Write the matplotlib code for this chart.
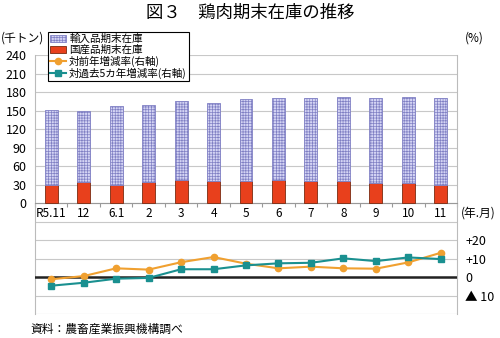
import matplotlib.pyplot as plt
import numpy as np

plt.rcParams['font.family'] = ['Noto Sans CJK JP', 'DejaVu Sans']
plt.rcParams['hatch.linewidth'] = 0.5

months = ['R5.11', '12', '6.1', '2', '3', '4', '5', '6', '7', '8', '9', '10', '11']
total_stock = [151, 149, 158, 159, 166, 163, 168, 171, 170, 172, 170, 172, 170]
domestic = [30, 33.5, 30, 34.5, 37, 35, 36, 37, 35.5, 35.5, 33, 32, 30]
imported = [t - d for t, d in zip(total_stock, domestic)]
yoy = [-1.2, 0.5, 4.7, 4.0, 8.0, 10.8, 7.2, 4.7, 5.6, 4.7, 4.5, 7.9, 13.1]
vs5yr = [-4.7, -3.1, -0.9, -0.5, 4.2, 4.2, 6.3, 7.4, 7.7, 10.1, 8.6, 10.6, 9.7]

x = np.arange(len(months))

fig = plt.figure(figsize=(5, 3.38), dpi=100)
ax = fig.add_axes([0.07, 0.071, 0.844, 0.766])

b1 = ax.bar(x, domestic, width=0.4, color='#e8401c', edgecolor='#7a2a10', linewidth=0.6,
            label='国産品期末在庫', zorder=3)
b2 = ax.bar(x, imported, width=0.4, bottom=domestic, color='#d4d4f4', edgecolor='#8080c4',
            hatch='++++++', linewidth=0.6, label='輸入品期末在庫', zorder=3)

ax.set_xlim(-0.5, len(months) - 0.5)
ax.set_ylim(-180, 240)
yt = list(range(-180, 241, 30))
ax.set_yticks(yt)
ax.set_yticklabels([str(v) if v >= 0 else '' for v in yt], fontsize=9)
ax.tick_params(axis='y', length=0, pad=6)
ax.grid(axis='y', color='#c8c8c8', linewidth=0.8, zorder=0)

ax.spines['bottom'].set_position(('data', 0))
ax.spines['bottom'].set_color('#999999')
ax.spines['top'].set_visible(False)
ax.spines['left'].set_color('#bbbbbb')
ax.spines['right'].set_color('#bbbbbb')
ax.set_xticks(np.arange(-0.5, len(months), 1))
ax.set_xticklabels([])
ax.set_xticks(x, minor=True)
ax.set_xticklabels(months, minor=True, fontsize=8.5)
ax.tick_params(axis='x', which='major', length=3, color='#999999')
ax.tick_params(axis='x', which='minor', length=0, pad=3)

ax2 = ax.twinx()
ax2.set_ylim(-20, 120)
ax2.set_yticks([-10, 0, 10, 20])
ax2.set_yticklabels(['▲ 10', '0', '+10', '+20'], fontsize=9)
ax2.tick_params(axis='y', length=0, pad=6)
for s in ax2.spines.values():
    s.set_visible(False)
ax2.axhline(0, color='#222222', linewidth=1.8, zorder=2)
l1, = ax2.plot(x, yoy, color='#f0a030', marker='o', markersize=4.5, linewidth=1.5,
               label='対前年増減率(右軸)', zorder=4)
l2, = ax2.plot(x, vs5yr, color='#1a9090', marker='s', markersize=4.5, linewidth=1.5,
               label='対過去5カ年増減率(右軸)', zorder=4)

leg = fig.legend([b2, b1, l1, l2],
                 ['輸入品期末在庫', '国産品期末在庫', '対前年増減率(右軸)', '対過去5カ年増減率(右軸)'],
                 loc='upper left', bbox_to_anchor=(0.096, 0.905), fontsize=7.6,
                 frameon=True, fancybox=False, framealpha=1, edgecolor='black',
                 handlelength=1.5, handletextpad=0.3, labelspacing=0.05,
                 borderpad=0.2, borderaxespad=0)
leg.get_frame().set_linewidth(0.8)

fig.text(0.5, 0.962, '図３　鶏肉期末在庫の推移', ha='center', va='center', fontsize=12.5)
fig.text(0.002, 0.888, '(千トン)', ha='left', va='center', fontsize=8.5)
fig.text(0.93, 0.888, '(%)', ha='left', va='center', fontsize=8.5)
fig.text(0.922, 0.37, '(年.月)', ha='left', va='center', fontsize=8.5)
fig.text(0.06, 0.025, '資料：農畜産業振興機構調べ', ha='left', va='center', fontsize=8.5)

fig.savefig('out.png', dpi=100)
